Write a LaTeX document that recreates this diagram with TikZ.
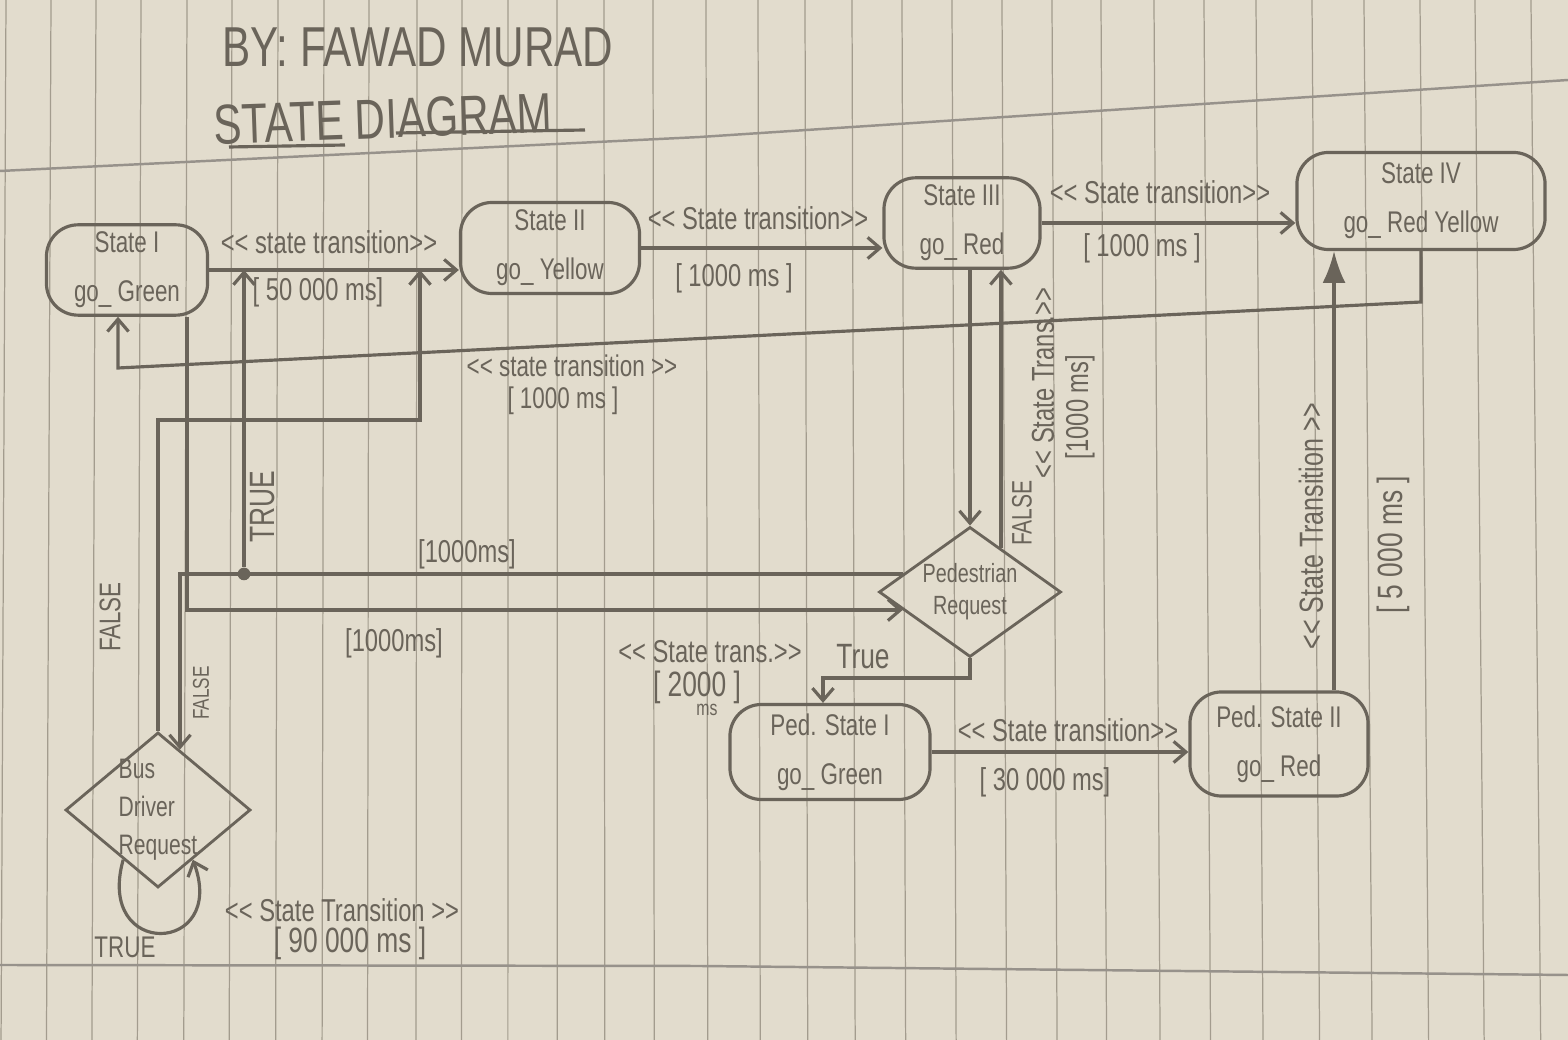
\documentclass[tikz,border=0pt]{standalone}
\usepackage{fontspec}
\usepackage{tikz}
\usetikzlibrary{arrows.meta, positioning, shapes.geometric, calc}
\newfontfamily\handfont[FakeStretch=0.75]{Liberation Sans}
\definecolor{paper}{HTML}{E2DCCD}
\definecolor{pencil}{HTML}{6A645A}
\definecolor{rulegray}{HTML}{A39C8E}

\tikzset{
  statebox/.style={draw=pencil, line width=0.9pt, rounded corners=9pt, align=center,
    text=pencil, font=\handfont\fontsize{8.5}{14}\selectfont, inner sep=2pt},
  decision/.style={draw=pencil, line width=0.8pt, diamond, aspect=1.4, inner sep=0pt,
    text=pencil, font=\handfont\fontsize{7.5}{9}\selectfont, align=center},
  trans/.style={draw=pencil, line width=0.9pt, -{Straight Barb[length=3.5pt,width=6pt]}},
  fattrans/.style={draw=pencil, line width=0.9pt, -{Latex[length=9pt,width=6.5pt]}},
  lbl/.style={text=pencil, font=\handfont\fontsize{9}{10}\selectfont, inner sep=1pt},
  vlbl/.style={lbl, rotate=90},
  junction/.style={circle, fill=pencil, inner sep=0pt, minimum size=3.6pt},
  ruling/.style={draw=rulegray, line width=0.35pt}
}

\begin{document}
\begin{tikzpicture}[x=0.01cm, y=-0.01cm]
    % paper
    \fill[paper] (0,0) rectangle (1568,1040);
    \useasboundingbox (0,0) rectangle (1568,1040);
    \foreach \t in {6,51,96,141,187,232,278,324,369,417,462,508,557,604,653,706,758,805,852,902,952,1002,1052,1101,1154,1204,1256,1312,1364,1420,1475,1531}
        \draw[ruling] (\t,0) -- ({\t-5+0.0096*\t},1040);
    \draw[ruling, draw=pencil!70, line width=0.7pt] (0,171) -- (700,137) -- (1568,80);
    \draw[ruling, draw=pencil!70, line width=0.7pt] (0,965) -- (700,966) -- (1568,975);

    % title
    \node[lbl, font=\handfont\fontsize{16}{18}\selectfont] (author) at (418,47) {BY: FAWAD MURAD};
    \node[lbl, font=\handfont\fontsize{16}{18}\selectfont, rotate=2] (heading) at (383,119) {STATE DIAGRAM};
    \draw[pencil, line width=0.9pt] (229,147) -- (345,145);
    \draw[pencil, line width=0.9pt] (396,133) -- (585,130);

    % traffic light states
    \node[statebox, minimum width=1.61cm, minimum height=0.86cm] (state1) at (127,270) {State I\\go\_ Green};
    \node[statebox, minimum width=1.79cm, minimum height=0.91cm] (state2) at (550,248) {State II\\go\_ Yellow};
    \node[statebox, minimum width=1.56cm, minimum height=0.90cm] (state3) at (962,223) {State III\\go\_ Red};
    \node[statebox, minimum width=2.48cm, minimum height=0.97cm] (state4) at (1421,201) {State IV\\go\_ Red Yellow};

    % pedestrian states
    \node[statebox, minimum width=2.00cm, minimum height=0.95cm] (ped1) at (830,752) {Ped. State I\\go\_ Green};
    \node[statebox, minimum width=1.78cm, minimum height=1.04cm] (ped2) at (1279,744) {Ped. State II\\go\_ Red};

    % requests
    \node[decision, minimum width=1.82cm, minimum height=1.30cm] (pedreq) at (970,592) {Pedestrian\\Request};
    \node[decision, aspect=1.19, inner sep=-1.5pt, minimum width=1.85cm, minimum height=1.55cm,
          align=left, font=\handfont\fontsize{8}{10.8}\selectfont] (busreq) at (158,810) {Bus\\Driver\\Request};

    % main cycle
    \draw[trans] (state1.east) -- (state1.east -| state2.west);
    \node[lbl] (t12a) at (329,242) {<{}< state transition>{}>};
    \node[lbl] (t12b) at (318,292) {[ 50 000 ms]};
    \draw[trans] (state2.east) -- (state2.east -| state3.west);
    \node[lbl] (t23a) at (758,218) {<{}< State transition>{}>};
    \node[lbl] (t23b) at (734,278) {[ 1000 ms ]};
    \draw[trans] (state3.east) -- (state3.east -| state4.west);
    \node[lbl] (t34a) at (1160,192) {<{}< State transition>{}>};
    \node[lbl] (t34b) at (1142,248) {[ 1000 ms ]};
    \coordinate (back1) at (1421,302);
    \coordinate (back2) at (118,368);
    \draw[trans] (state4.south) -- (back1) -- (back2) -- (back2 |- state1.south);
    \node[lbl, font=\handfont\fontsize{8.5}{10}\selectfont] (t41a) at (572,366) {<{}< state transition >{}>};
    \node[lbl, font=\handfont\fontsize{8.5}{10}\selectfont] (t41b) at (563,401) {[ 1000 ms ]};

    % pedestrian request
    \draw[trans] (pedreq.north |- state3.south) -- (pedreq.north);
    \draw[trans] (pedreq.55) -- (pedreq.55 |- state3.south);
    \node[vlbl, font=\handfont\fontsize{8}{9}\selectfont] (pfalse) at (1022,513) {FALSE};
    \node[vlbl] (tp3a) at (1043,383) {<{}< State Trans.>{}>};
    \node[vlbl] (tp3b) at (1080,407) {[1000 ms]};
    \coordinate (truebend) at (823,678);
    \draw[trans] (pedreq.south) |- (truebend) -- (truebend |- ped1.north);
    \node[lbl, font=\handfont\fontsize{10}{11}\selectfont] (ptrue) at (863,657) {True};
    \node[lbl] (tp1a) at (710,652) {<{}< State trans.>{}>};
    \node[lbl, font=\handfont\fontsize{10}{11}\selectfont] (tp1b) at (697,687) {[ 2000 ]};
    \node[lbl, font=\handfont\fontsize{6}{7}\selectfont] (tp1c) at (707,710) {ms};
    \draw[trans] (ped1.east) -- (ped1.east -| ped2.west);
    \node[lbl] (tppa) at (1068,730) {<{}< State transition>{}>};
    \node[lbl] (tppb) at (1045,782) {[ 30 000 ms]};
    \draw[fattrans] ([xshift=0.55cm]ped2.north) -- ([xshift=0.55cm]ped2.north |- state4.south);
    \node[vlbl, font=\handfont\fontsize{9.5}{11}\selectfont] (tp4a) at (1311,526) {<{}< State Transition >{}>};
    \node[vlbl, font=\handfont\fontsize{10}{11}\selectfont] (tp4b) at (1393,545) {[ 5 000 ms ]};

    % bus driver request
    \coordinate (falseup) at (420,420);
    \draw[trans] (busreq.north) |- (falseup) -- (falseup |- state1.east);
    \node[vlbl, font=\handfont\fontsize{8.5}{10}\selectfont] (bfalse) at (110,617) {FALSE};
    \coordinate (truex) at (244,0);
    \draw[trans] (pedreq.165) -| (busreq.70);
    \node[junction] (jtrue) at (pedreq.165 -| truex) {};
    \draw[trans] (jtrue) -- (jtrue |- state1.east);
    \node[vlbl, font=\handfont\fontsize{10}{11}\selectfont] (btrue) at (263,507) {TRUE};
    \node[vlbl, font=\handfont\fontsize{6.5}{8}\selectfont] (bfalse2) at (201,693) {FALSE};
    \node[lbl] (tb1) at (467,554) {[1000ms]};
    \draw[trans] ([xshift=0.6cm]state1.south) |- (pedreq.195);
    \node[lbl] (tb2) at (394,643) {[1000ms]};
    \draw[trans] (busreq.235) .. controls (95,960) and (228,955) .. (busreq.305);
    \node[lbl, font=\handfont\fontsize{8.5}{10}\selectfont] (bloop) at (125,947) {TRUE};
    \node[lbl] (tb3a) at (342,910) {<{}< State Transition >{}>};
    \node[lbl, font=\handfont\fontsize{10}{11}\selectfont] (tb3b) at (350,943) {[ 90 000 ms ]};
\end{tikzpicture}
\end{document}
